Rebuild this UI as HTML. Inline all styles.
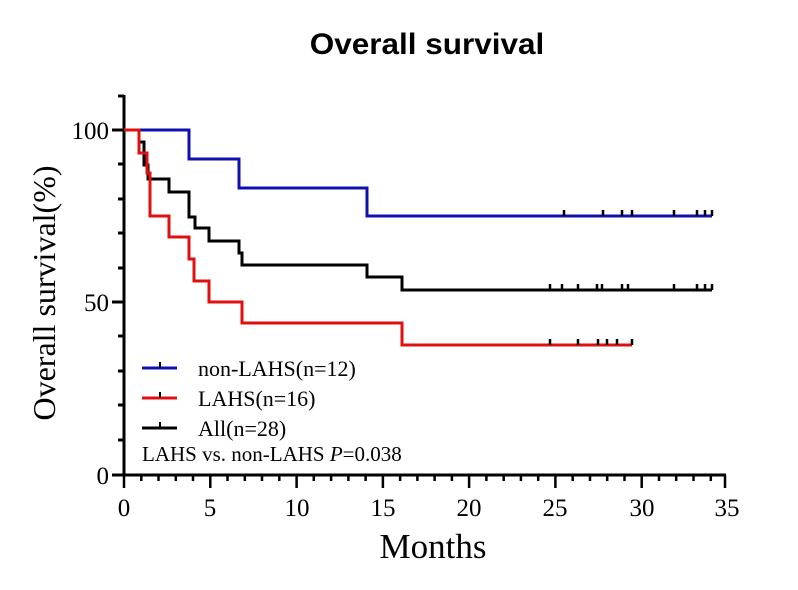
<!DOCTYPE html>
<html><head><meta charset="utf-8"><style>
html,body{margin:0;padding:0;background:#fff;}
svg{display:block;}
.t{font-family:"Liberation Serif",serif;fill:#000;}
</style></head><body>
<svg width="798" height="590" viewBox="0 0 798 590" xmlns="http://www.w3.org/2000/svg">
<text x="427" y="54" text-anchor="middle" font-family="Liberation Sans, sans-serif" font-weight="bold" font-size="30" transform="translate(427,0) scale(1.05,1) translate(-427,0)">Overall survival</text>
<g stroke="#000" stroke-width="3" fill="none">
<path d="M124,95 V475 H726"/>
<path d="M112,130 H124 M112,302 H124 M112,475 H124"/>
<path d="M118,96 H124 M118,164 H124 M118,199 H124 M118,233 H124 M118,268 H124 M118,336 H124 M118,371 H124 M118,405 H124 M118,440 H124"/>
</g>
<g stroke="#000" stroke-width="2.5">
<path d="M124,475V488 M210.3,475V488 M296.6,475V488 M382.9,475V488 M469.1,475V488 M555.4,475V488 M641.7,475V488 M725,475V488"/>
<path d="M141.3,475V481 M158.5,475V481 M175.8,475V481 M193,475V481 M227.5,475V481 M244.8,475V481 M262,475V481 M279.3,475V481 M313.8,475V481 M331.1,475V481 M348.4,475V481 M365.6,475V481 M400.1,475V481 M417.4,475V481 M434.6,475V481 M451.9,475V481 M486.4,475V481 M503.7,475V481 M520.9,475V481 M538.2,475V481 M572.7,475V481 M590,475V481 M607.2,475V481 M624.5,475V481 M659,475V481 M676.2,475V481 M693.5,475V481 M710.8,475V481"/>
</g>
<g class="t" font-size="25" text-anchor="end">
<text x="109" y="139">100</text><text x="109" y="311">50</text><text x="109" y="484">0</text>
</g>
<g class="t" font-size="25" text-anchor="middle">
<text x="124" y="516">0</text><text x="210" y="516">5</text><text x="297" y="516">10</text><text x="383" y="516">15</text><text x="469" y="516">20</text><text x="555" y="516">25</text><text x="642" y="516">30</text><text x="727" y="516">35</text>
</g>
<text class="t" x="433" y="558" font-size="35" text-anchor="middle">Months</text>
<text class="t" font-size="32" text-anchor="middle" transform="translate(55,293) rotate(-90)">Overall survival(%)</text>
<g fill="none" stroke-width="3">
<path stroke="#1010b0" d="M124,130 H189 V159 H239 V188 H367 V216 H712"/>
<path stroke="#000" d="M124,130 H139 V142 H144 V165 H148 V179 H169 V192 H189 V217 H195 V228 H209 V241 H239 V253 H242 V265 H367 V277 H402 V290 H712"/>
<path stroke="#e01010" d="M124,130 H139 V153 H147 V173 H150 V216 H169 V237 H189 V259 H194 V281 H209 V302 H242 V323 H402 V345 H632"/>
</g>
<g stroke-width="2.5">
<path stroke="#000" d="M564,216V210 M603,216V210 M622,216V210 M632,216V210 M674,216V210 M697,216V210 M705,216V210 M712,216V210"/>
<path stroke="#000" d="M550,290V284 M562,290V284 M578,290V284 M597,290V284 M602,290V284 M622,290V284 M628,290V284 M674,290V284 M697,290V284 M705,290V284 M712,290V284"/>
<path stroke="#000" d="M550,345V339 M578,345V339 M598,345V339 M607,345V339 M617,345V339 M632,345V339"/>
</g>
<g stroke-width="3">
<path stroke="#1010b0" d="M142,368H177"/><path stroke="#000" stroke-width="2" d="M160,368V362"/>
<path stroke="#e01010" d="M142,398H177"/><path stroke="#000" stroke-width="2" d="M160,398V392"/>
<path stroke="#000" d="M142,428H177"/><path stroke="#000" stroke-width="2" d="M160,428V422"/>
</g>
<g class="t" font-size="22">
<text x="198" y="376">non-LAHS(n=12)</text>
<text x="198" y="406">LAHS(n=16)</text>
<text x="198" y="436">All(n=28)</text>
</g>
<text class="t" x="142" y="461" font-size="21">LAHS vs. non-LAHS <tspan font-style="italic">P</tspan>=0.038</text>
</svg>
</body></html>
